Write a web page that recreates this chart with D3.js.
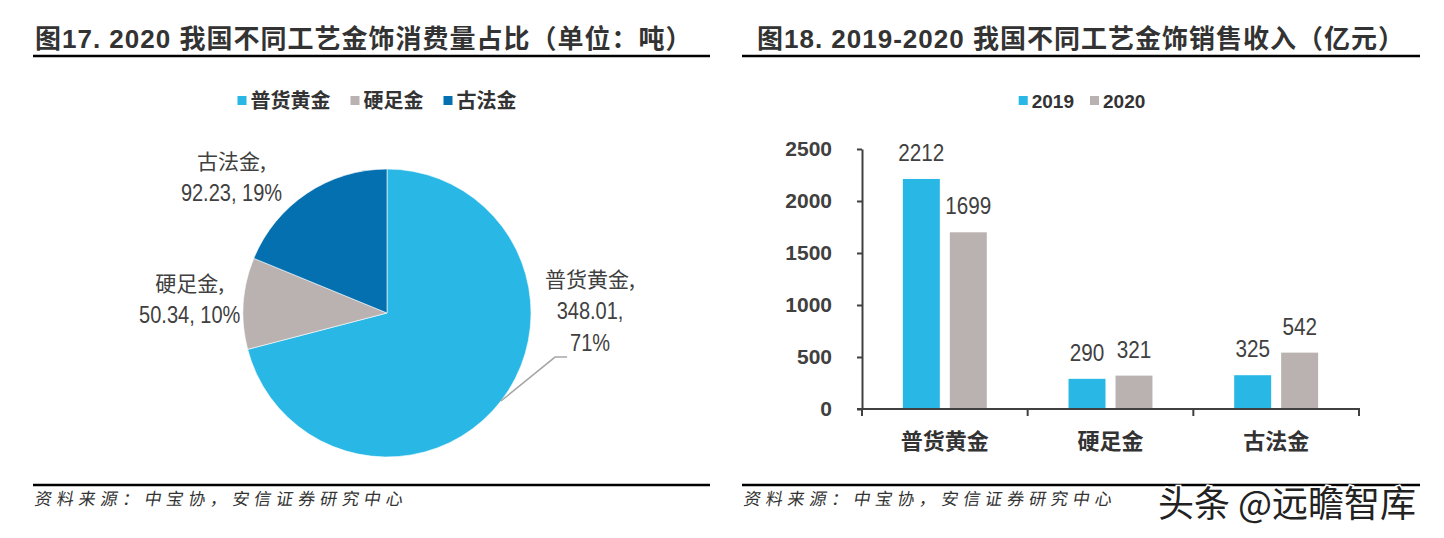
<!DOCTYPE html>
<html><head><meta charset="utf-8">
<script src="https://cdn.jsdelivr.net/npm/d3@7"></script>
<style>
html,body{margin:0;padding:0;background:#fff;}
svg{display:block;}
</style></head>
<body>
<svg id="c" width="1444" height="538"></svg>
<script>
// ---------- data ----------
const pieCategories = ["普货黄金", "硬足金", "古法金"];
const pieValues = [348.01, 50.34, 92.23];
const piePercents = ["71%", "10%", "19%"];
const pieColors = ["#29B8E6", "#B9B2B1", "#0570B0"];

const barCategories = ["普货黄金", "硬足金", "古法金"];
const barSeries = ["2019", "2020"];
const values2019 = [2212, 290, 325];
const values2020 = [1699, 321, 542];
const barColors = ["#29B8E6", "#B9B2B1"];
const yTicks = [0, 500, 1000, 1500, 2000, 2500];

const titleLeft = "图17. 2020 我国不同工艺金饰消费量占比（单位：吨）";
const titleRight = "图18. 2019-2020 我国不同工艺金饰销售收入（亿元）";
const sourceText = "资料来源：中宝协，安信证券研究中心";
const watermark = "头条 @远瞻智库";

// ---------- setup ----------
const svg = d3.select("#c");
const TXT = "#404040";
const FONT = "'Liberation Sans', Arial, 'Noto Sans CJK SC', sans-serif";
const CJK = "'Noto Sans CJK SC', 'Liberation Sans', sans-serif";

// titles + rules
function header(x0, x1, tx, title) {
  svg.append("text").attr("x", tx).attr("y", 48)
    .attr("font-family", FONT).attr("font-weight", 700).attr("font-size", 26)
    .attr("letter-spacing", 1)
    .attr("fill", "#333")
    .text(title);
  svg.append("line").attr("x1", x0).attr("x2", x1).attr("y1", 56).attr("y2", 56)
    .attr("stroke", "#000").attr("stroke-width", 2.5);
  svg.append("line").attr("x1", x0).attr("x2", x1).attr("y1", 485).attr("y2", 485)
    .attr("stroke", "#000").attr("stroke-width", 2.5);
  svg.append("text").attr("x", x0 + 1).attr("y", 505)
    .attr("font-family", CJK).attr("font-size", 17)
    .attr("fill", "#333").attr("textLength", 368).attr("lengthAdjust", "spacing")
    .attr("transform", `skewX(-10) translate(${505 * Math.tan(10 * Math.PI / 180)},0)`)
    .text(sourceText);
}
header(33, 710, 35, titleLeft);
header(742, 1420, 757, titleRight);

// legend helper
function legend(items, colors, cx, cy, fontFamily, size, gap) {
  const g = svg.append("g");
  let x = 0;
  items.forEach((t, i) => {
    g.append("rect").attr("x", x).attr("y", cy - 5).attr("width", 9).attr("height", 9).attr("fill", colors[i]);
    const tx = g.append("text").attr("x", x + 13).attr("y", cy + 7)
      .attr("font-family", fontFamily).attr("font-weight", 700).attr("font-size", size)
      .attr("fill", "#333").text(t);
    x += 13 + tx.node().getComputedTextLength() + gap;
  });
  const w = x - gap;
  g.attr("transform", `translate(${cx - w / 2},0)`);
}
legend(pieCategories, pieColors, 377, 101, CJK, 20, 20);
legend(barSeries, barColors, 1082, 101, FONT, 19, 16);

// ---------- pie ----------
const pcx = 387, pcy = 313, R = 144;
const pie = d3.pie().sort(null).value(d => d).startAngle(0).endAngle(2 * Math.PI);
const arcs = pie(pieValues);
const arc = d3.arc().innerRadius(0).outerRadius(R);
const pg = svg.append("g").attr("transform", `translate(${pcx},${pcy})`);
pg.selectAll("path").data(arcs).join("path")
  .attr("d", arc).attr("fill", (d, i) => pieColors[i])
  .attr("stroke", "#fff").attr("stroke-width", 0.6);

// label layout (in units of radius, relative to pie centre)
const labelLayout = [
  { x: 1.41, y: -0.18, leader: true },
  { x: -1.37, y: -0.15 },
  { x: -1.08, y: -1.0 }
];
arcs.forEach((a, i) => {
  const L = labelLayout[i];
  const lx = L.x * R, ly = L.y * R;
  const lines = i === 0
    ? [pieCategories[i] + ",", d3.format(".2f")(pieValues[i]) + ",", piePercents[i]]
    : [pieCategories[i] + ",", d3.format(".2f")(pieValues[i]) + ", " + piePercents[i]];
  lines.forEach((t, k) => {
    const isCjk = k === 0;
    const g = pg.append("g").attr("transform", `translate(${lx},${ly + k * 32}) scale(${isCjk ? 1 : 0.87},1)`);
    g.append("text").attr("text-anchor", "middle")
      .attr("font-family", isCjk ? CJK : FONT).attr("font-size", isCjk ? 21 : 23)
      .attr("fill", TXT).text(t);
  });
  if (L.leader) {
    const mid = (a.startAngle + a.endAngle) / 2;
    const p0 = [Math.sin(mid) * R, -Math.cos(mid) * R];
    const elbow = [1.167 * R, 0.306 * R];
    pg.append("polyline")
      .attr("points", [p0, elbow, [elbow[0] + 12, elbow[1]]].map(p => p.join(",")).join(" "))
      .attr("fill", "none").attr("stroke", "#A6A6A6").attr("stroke-width", 1.5);
  }
});

// ---------- bars ----------
const x0 = d3.scaleBand().domain(barCategories).range([862, 1359]).padding(0);
const x1 = d3.scaleBand().domain(barSeries).range([0, x0.bandwidth()]).paddingInner(0.213).paddingOuter(0.87);
const y = d3.scaleLinear().domain([0, 2500]).range([409, 149]);
const seriesVals = [values2019, values2020];

const bg = svg.append("g");
barCategories.forEach((c, ci) => {
  barSeries.forEach((s, si) => {
    const v = seriesVals[si][ci];
    bg.append("rect")
      .attr("x", x0(c) + x1(s)).attr("width", x1.bandwidth())
      .attr("y", y(v)).attr("height", y(0) - y(v))
      .attr("fill", barColors[si]);
    bg.append("g")
      .attr("transform", `translate(${x0(c) + x1(s) + x1.bandwidth() / 2},${y(v) - 18}) scale(0.9,1)`)
      .append("text").attr("text-anchor", "middle")
      .attr("font-family", FONT).attr("font-size", 23).attr("fill", TXT).text(v);
  });
});

// y axis
const yAxis = svg.append("g").attr("transform", "translate(862,0)")
  .call(d3.axisLeft(y).tickValues(yTicks).tickFormat(d3.format("d")).tickSize(5).tickPadding(25).tickSizeOuter(0));
yAxis.select(".domain").attr("stroke", "#404040").attr("stroke-width", 2);
yAxis.selectAll(".tick line").attr("stroke", "#404040").attr("stroke-width", 2);
yAxis.selectAll(".tick text").attr("font-family", FONT).attr("font-weight", 700)
  .attr("font-size", 21).attr("fill", TXT);

// x axis: baseline and boundary ticks
const bounds = x0.domain().map(d => x0(d)).concat([x0.range()[1]]);
svg.append("line").attr("x1", 857).attr("x2", x0.range()[1] + 1).attr("y1", y(0)).attr("y2", y(0))
  .attr("stroke", "#404040").attr("stroke-width", 2);
svg.selectAll(".xb").data(bounds).join("line")
  .attr("x1", d => d).attr("x2", d => d).attr("y1", y(0)).attr("y2", y(0) + 7)
  .attr("stroke", "#404040").attr("stroke-width", 2);
svg.selectAll(".xl").data(barCategories).join("text")
  .attr("x", d => x0(d) + x0.bandwidth() / 2).attr("y", 449)
  .attr("text-anchor", "middle").attr("font-family", CJK).attr("font-weight", 700)
  .attr("font-size", 22).attr("fill", "#333").text(d => d);

// watermark
svg.append("text").attr("x", 1158).attr("y", 517)
  .attr("font-family", CJK).attr("font-size", 36).attr("fill", "#222")
  .attr("stroke", "#fff").attr("stroke-width", 3).attr("paint-order", "stroke")
  .text(watermark);
</script>
</body></html>
